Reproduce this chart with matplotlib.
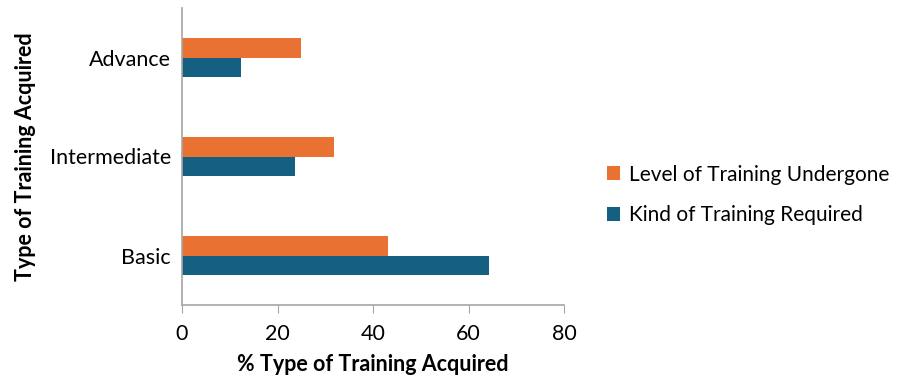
import numpy as np
import matplotlib.pyplot as plt

plt.rcParams['font.family'] = ['Lato', 'DejaVu Sans']

# Data
categories = ['Basic', 'Intermediate', 'Advance']
undergone = [43.2, 31.8, 25.0]
required = [64.2, 23.6, 12.4]

orange = '#E97132'
blue = '#156082'

fig = plt.figure(figsize=(8.99, 3.76), dpi=100)
ax = fig.add_axes([182 / 899, 1 - 305 / 376, (564 - 182) / 899, (305 - 8) / 376])

y = np.arange(len(categories))
h = 0.2
ax.barh(y + h / 2, undergone, height=h, color=orange, label='Level of Training Undergone')
ax.barh(y - h / 2, required, height=h, color=blue, label='Kind of Training Required')

ax.set_xlim(0, 80)
ax.set_ylim(-0.5, 2.5)
ax.set_xticks([0, 20, 40, 60, 80])
ax.set_yticks(y)
ax.set_yticklabels(categories)
ax.tick_params(axis='x', length=6, color='#a6a6a6', labelsize=15.5, pad=8, colors='#a6a6a6', labelcolor='black')
ax.tick_params(axis='y', length=0, labelsize=15.5, pad=8)

for s in ['top', 'right']:
    ax.spines[s].set_visible(False)
for s in ['left', 'bottom']:
    ax.spines[s].set_color('#a6a6a6')
    ax.spines[s].set_linewidth(1.2)

ax.set_xlabel('% Type of Training Acquired', fontsize=15.5, fontweight='bold', labelpad=7)
ax.set_ylabel('Type of Training Acquired', fontsize=15.5, fontweight='bold', labelpad=10)

handles, labels = ax.get_legend_handles_labels()
fig.legend(handles, labels, loc='center left', bbox_to_anchor=(588 / 899, 1 - 195 / 376),
           frameon=False, fontsize=15, handlelength=0.65, handleheight=0.65,
           handletextpad=0.4, labelspacing=1.0)

fig.savefig('out.png', dpi=100)
